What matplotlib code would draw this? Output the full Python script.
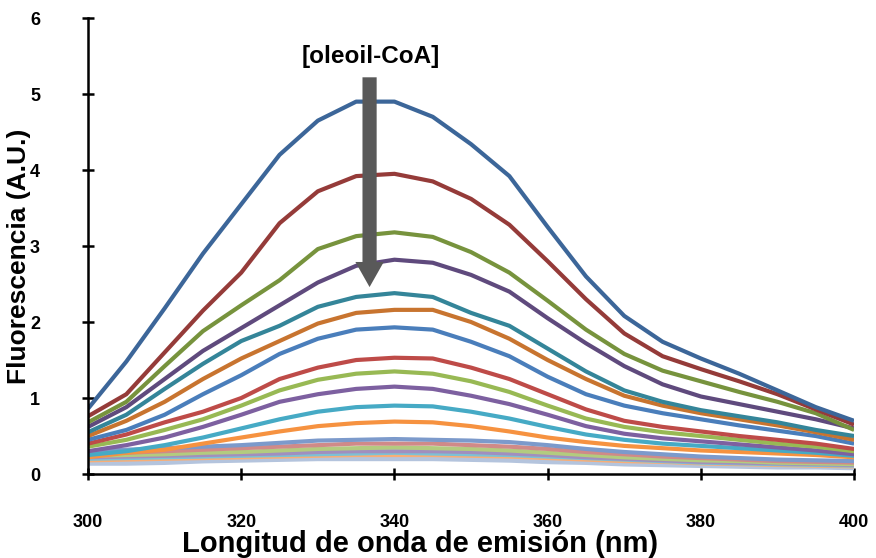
import numpy as np
import matplotlib
matplotlib.use('Agg')
import matplotlib.pyplot as plt
from matplotlib.patches import FancyArrow

plt.rcParams['font.family'] = ['Liberation Sans', 'DejaVu Sans']

# wavelength grid (nm)
wavelength = np.arange(300, 401, 5)

# emission spectra, one per oleoil-CoA addition
spectra = [
    [0.86, 1.48, 2.18, 2.90, 3.55, 4.20, 4.65, 4.90, 4.90, 4.70, 4.34, 3.92, 3.25, 2.60, 2.08, 1.74, 1.52, 1.32, 1.10, 0.88, 0.70],
    [0.76, 1.05, 1.60, 2.15, 2.65, 3.30, 3.72, 3.92, 3.95, 3.85, 3.62, 3.28, 2.80, 2.30, 1.85, 1.55, 1.38, 1.22, 1.05, 0.85, 0.65],
    [0.68, 0.95, 1.42, 1.88, 2.22, 2.55, 2.96, 3.13, 3.18, 3.12, 2.92, 2.65, 2.28, 1.90, 1.58, 1.36, 1.22, 1.08, 0.95, 0.80, 0.58],
    [0.62, 0.88, 1.25, 1.62, 1.92, 2.22, 2.52, 2.74, 2.82, 2.78, 2.62, 2.40, 2.05, 1.72, 1.42, 1.18, 1.02, 0.92, 0.82, 0.72, 0.60],
    [0.55, 0.78, 1.12, 1.45, 1.75, 1.95, 2.20, 2.33, 2.38, 2.33, 2.12, 1.95, 1.65, 1.35, 1.10, 0.95, 0.84, 0.76, 0.68, 0.58, 0.50],
    [0.50, 0.70, 0.95, 1.25, 1.52, 1.75, 1.98, 2.12, 2.16, 2.16, 2.00, 1.78, 1.50, 1.25, 1.03, 0.90, 0.80, 0.72, 0.64, 0.55, 0.45],
    [0.45, 0.58, 0.78, 1.05, 1.30, 1.58, 1.78, 1.90, 1.93, 1.90, 1.74, 1.55, 1.28, 1.05, 0.90, 0.80, 0.72, 0.64, 0.57, 0.50, 0.40],
    [0.40, 0.52, 0.68, 0.82, 1.00, 1.25, 1.40, 1.50, 1.53, 1.52, 1.40, 1.25, 1.05, 0.85, 0.70, 0.62, 0.56, 0.50, 0.45, 0.40, 0.33],
    [0.36, 0.45, 0.58, 0.72, 0.90, 1.10, 1.24, 1.32, 1.35, 1.32, 1.22, 1.08, 0.90, 0.73, 0.62, 0.55, 0.50, 0.45, 0.40, 0.36, 0.30],
    [0.30, 0.38, 0.48, 0.62, 0.78, 0.95, 1.05, 1.12, 1.15, 1.12, 1.03, 0.92, 0.78, 0.63, 0.53, 0.47, 0.43, 0.39, 0.35, 0.31, 0.26],
    [0.25, 0.30, 0.38, 0.48, 0.60, 0.72, 0.82, 0.88, 0.90, 0.89, 0.82, 0.73, 0.62, 0.52, 0.45, 0.40, 0.37, 0.34, 0.31, 0.28, 0.24],
    [0.22, 0.28, 0.32, 0.40, 0.48, 0.56, 0.63, 0.67, 0.69, 0.68, 0.63, 0.56, 0.48, 0.42, 0.37, 0.34, 0.31, 0.29, 0.27, 0.25, 0.22],
    [0.30, 0.32, 0.34, 0.36, 0.38, 0.41, 0.44, 0.45, 0.46, 0.45, 0.44, 0.42, 0.38, 0.33, 0.29, 0.26, 0.23, 0.21, 0.19, 0.18, 0.17],
    [0.27, 0.28, 0.30, 0.32, 0.34, 0.36, 0.38, 0.40, 0.40, 0.40, 0.38, 0.36, 0.33, 0.29, 0.26, 0.23, 0.21, 0.19, 0.17, 0.16, 0.15],
    [0.24, 0.25, 0.26, 0.28, 0.29, 0.31, 0.33, 0.34, 0.35, 0.34, 0.33, 0.31, 0.28, 0.25, 0.22, 0.20, 0.18, 0.17, 0.15, 0.14, 0.13],
    [0.22, 0.23, 0.24, 0.25, 0.26, 0.27, 0.29, 0.30, 0.30, 0.30, 0.29, 0.27, 0.25, 0.22, 0.20, 0.18, 0.16, 0.15, 0.14, 0.13, 0.12],
    [0.20, 0.21, 0.22, 0.23, 0.24, 0.25, 0.26, 0.27, 0.28, 0.27, 0.26, 0.25, 0.23, 0.21, 0.19, 0.17, 0.15, 0.14, 0.13, 0.12, 0.11],
    [0.18, 0.19, 0.20, 0.21, 0.22, 0.23, 0.24, 0.25, 0.25, 0.25, 0.24, 0.23, 0.21, 0.19, 0.17, 0.16, 0.14, 0.13, 0.12, 0.11, 0.10],
    [0.15, 0.15, 0.16, 0.18, 0.19, 0.20, 0.21, 0.21, 0.21, 0.21, 0.20, 0.19, 0.17, 0.16, 0.14, 0.13, 0.12, 0.11, 0.10, 0.10, 0.09],
]

colors = ['#3c6699', '#953b39', '#77933d', '#5f4a7d', '#348599', '#c8742f',
          '#4a7ebb', '#be4b48', '#98b954', '#7d60a0', '#46aac5', '#f69240',
          '#7c9acb', '#d08a88', '#b3cb7f', '#a18fbe', '#7dc1d5', '#f8ae77',
          '#b4c4dd']

xticks = [300, 320, 340, 360, 380, 400]
yticks = [0, 1, 2, 3, 4, 5, 6]

fig = plt.figure(figsize=(8.76, 5.58), dpi=100)
ax = fig.add_axes([0.1005, 0.1505, 0.8745, 0.8172])

# draw lowest curves first so the big ones sit on top
for i in range(len(spectra) - 1, -1, -1):
    lw = 4.5 if i == len(spectra) - 1 else 3.0
    ax.plot(wavelength, spectra[i], color=colors[i], linewidth=lw,
            solid_capstyle='butt', solid_joinstyle='round')

ax.set_xlim(300, 400)
ax.set_ylim(0, 6)
ax.set_xticks(xticks)
ax.set_yticks(yticks)

for s in ['top', 'right']:
    ax.spines[s].set_visible(False)
for s in ['left', 'bottom']:
    ax.spines[s].set_linewidth(1.8)
    ax.spines[s].set_color('black')

ax.tick_params(axis='both', direction='inout', length=9, width=1.8,
               labelsize=13)
ax.tick_params(axis='y', pad=30)
ax.tick_params(axis='x', pad=24)
for lab in ax.get_xticklabels() + ax.get_yticklabels():
    lab.set_fontweight('bold')

# arrow showing increasing [oleoil-CoA]
arr = FancyArrow(336.75, 5.22, 0, -2.76, width=1.85, head_width=3.7,
                 head_length=0.33, length_includes_head=True,
                 color='#595959', linewidth=0, zorder=30)
ax.add_patch(arr)
ax.text(336.9, 5.49, '[oleoil-CoA]', ha='center', va='center',
        fontsize=17.5, fontweight='bold', zorder=31)

fig.text(420 / 876, 0.011, 'Longitud de onda de emisión (nm)', ha='center',
         va='baseline', fontsize=21, fontweight='bold')
fig.text(19 / 876, 0.54, 'Fluorescencia (A.U.)', ha='center', va='center',
         rotation=90, fontsize=19, fontweight='bold')

fig.savefig('out.png', dpi=100)
